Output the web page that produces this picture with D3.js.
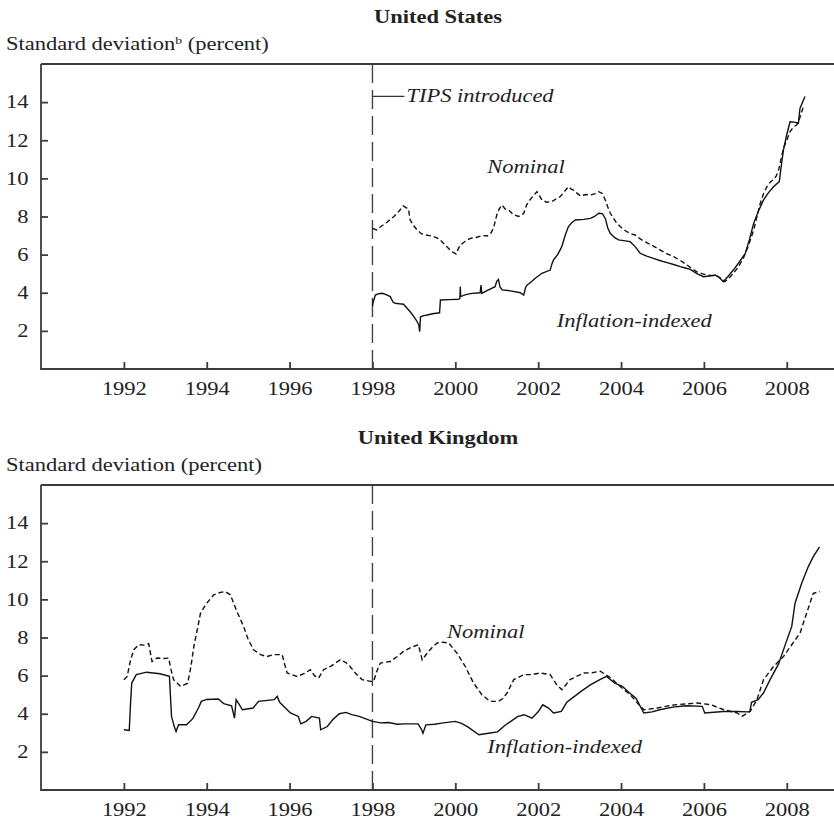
<!DOCTYPE html>
<html>
<head>
<meta charset="utf-8">
<title>Standard deviation of yields</title>
<script src="https://d3js.org/d3.v7.min.js"></script>
<style>
  body { margin: 0; background: #fff; }
  svg text { font-family: "Liberation Serif", "Times New Roman", serif; fill: #222; }
</style>
</head>
<body>
<div id="chart"></div>
<script>
// series: [year, standard deviation in percent]
const usNominal = [[1998.0,7.38],[1998.1,7.3],[1998.19,7.45],[1998.35,7.7],[1998.52,8.0],[1998.65,8.3],[1998.74,8.55],[1998.82,8.45],[1998.87,8.38],[1998.91,7.82],[1999.0,7.5],[1999.08,7.29],[1999.18,7.1],[1999.28,7.03],[1999.38,7.0],[1999.48,6.94],[1999.58,6.85],[1999.68,6.68],[1999.78,6.45],[1999.88,6.24],[1999.96,6.1],[2000.02,6.03],[2000.07,6.3],[2000.12,6.5],[2000.24,6.7],[2000.36,6.85],[2000.5,6.9],[2000.65,7.0],[2000.77,6.98],[2000.85,7.1],[2000.92,7.38],[2000.97,7.8],[2001.0,8.08],[2001.06,8.4],[2001.13,8.6],[2001.2,8.4],[2001.29,8.33],[2001.4,8.1],[2001.53,8.0],[2001.65,8.16],[2001.72,8.6],[2001.77,8.78],[2001.85,9.0],[2001.97,9.3],[2002.03,9.1],[2002.09,8.87],[2002.2,8.75],[2002.33,8.78],[2002.45,8.95],[2002.53,9.04],[2002.63,9.3],[2002.73,9.56],[2002.79,9.45],[2002.85,9.39],[2002.95,9.2],[2003.02,9.08],[2003.15,9.15],[2003.26,9.13],[2003.38,9.2],[2003.46,9.3],[2003.54,9.22],[2003.62,8.87],[2003.68,8.5],[2003.74,8.17],[2003.82,7.9],[2003.9,7.64],[2004.02,7.4],[2004.14,7.2],[2004.24,7.1],[2004.34,7.03],[2004.48,6.8],[2004.62,6.63],[2004.78,6.45],[2004.95,6.24],[2005.1,6.05],[2005.27,5.89],[2005.43,5.7],[2005.59,5.46],[2005.7,5.28],[2005.83,5.1],[2005.95,5.0],[2006.07,4.93],[2006.2,4.9],[2006.31,4.88],[2006.42,4.75],[2006.51,4.58],[2006.6,4.75],[2006.71,5.02],[2006.83,5.35],[2006.95,5.8],[2007.08,6.5],[2007.2,7.29],[2007.28,8.0],[2007.36,8.69],[2007.44,9.2],[2007.52,9.56],[2007.6,9.8],[2007.68,9.95],[2007.74,10.1],[2007.8,10.4],[2007.86,11.0],[2007.92,11.58],[2008.0,12.0],[2008.08,12.45],[2008.16,12.7],[2008.24,12.8],[2008.32,13.2],[2008.4,13.76]];

const usIndexed = [[1998.0,3.3],[1998.02,3.53],[1998.07,3.88],[1998.15,3.95],[1998.24,3.97],[1998.33,3.9],[1998.43,3.8],[1998.5,3.5],[1998.55,3.45],[1998.65,3.42],[1998.75,3.4],[1998.83,3.2],[1998.91,3.0],[1999.0,2.75],[1999.08,2.48],[1999.12,2.3],[1999.14,1.96],[1999.16,2.74],[1999.24,2.8],[1999.32,2.83],[1999.45,2.9],[1999.62,2.95],[1999.64,3.62],[1999.85,3.64],[2000.08,3.66],[2000.11,3.7],[2000.12,4.32],[2000.13,3.8],[2000.25,3.9],[2000.4,3.97],[2000.6,4.0],[2000.62,4.4],[2000.64,3.97],[2000.8,4.15],[2000.96,4.32],[2001.0,4.6],[2001.04,4.7],[2001.08,4.3],[2001.13,4.15],[2001.33,4.1],[2001.57,4.0],[2001.65,3.88],[2001.7,4.3],[2001.73,4.4],[2001.85,4.6],[2001.93,4.76],[2002.09,5.02],[2002.29,5.19],[2002.33,5.5],[2002.37,5.72],[2002.47,6.0],[2002.57,6.42],[2002.65,7.0],[2002.73,7.47],[2002.82,7.7],[2002.9,7.82],[2003.1,7.85],[2003.26,7.9],[2003.36,8.0],[2003.46,8.17],[2003.55,8.15],[2003.62,7.9],[2003.68,7.4],[2003.74,7.12],[2003.84,6.9],[2003.94,6.77],[2004.1,6.72],[2004.22,6.68],[2004.34,6.42],[2004.46,6.07],[2004.62,5.92],[2004.78,5.8],[2004.95,5.68],[2005.11,5.58],[2005.27,5.48],[2005.43,5.37],[2005.55,5.3],[2005.67,5.23],[2005.83,5.0],[2005.99,4.84],[2006.13,4.88],[2006.27,4.93],[2006.37,4.8],[2006.47,4.58],[2006.58,4.85],[2006.71,5.19],[2006.85,5.6],[2007.0,6.07],[2007.1,6.8],[2007.2,7.64],[2007.32,8.3],[2007.44,8.87],[2007.56,9.25],[2007.68,9.56],[2007.82,9.83],[2007.87,10.7],[2007.92,11.49],[2008.0,12.3],[2008.08,12.97],[2008.18,12.95],[2008.28,12.89],[2008.32,13.68],[2008.44,14.29]];

const ukNominal = [[1992.0,5.79],[1992.08,5.96],[1992.16,6.8],[1992.24,7.36],[1992.36,7.62],[1992.48,7.6],[1992.6,7.68],[1992.64,7.2],[1992.68,6.74],[1992.8,6.92],[1992.95,6.9],[1993.08,6.92],[1993.14,6.3],[1993.2,5.79],[1993.37,5.43],[1993.54,5.6],[1993.62,6.5],[1993.69,7.53],[1993.78,8.5],[1993.85,9.28],[1994.0,9.8],[1994.17,10.24],[1994.3,10.35],[1994.45,10.41],[1994.57,10.24],[1994.73,9.36],[1994.89,8.58],[1995.0,7.9],[1995.13,7.36],[1995.3,7.1],[1995.45,7.0],[1995.62,7.1],[1995.82,7.1],[1995.88,6.6],[1995.94,6.14],[1996.18,5.96],[1996.35,6.1],[1996.5,6.31],[1996.6,6.0],[1996.7,5.87],[1996.82,6.31],[1997.0,6.5],[1997.22,6.83],[1997.35,6.7],[1997.46,6.48],[1997.6,6.1],[1997.75,5.79],[1997.95,5.7],[1998.03,5.7],[1998.1,6.2],[1998.19,6.66],[1998.43,6.74],[1998.6,7.0],[1998.75,7.27],[1998.95,7.5],[1999.11,7.62],[1999.2,6.83],[1999.32,7.18],[1999.45,7.5],[1999.56,7.71],[1999.7,7.75],[1999.84,7.71],[2000.04,7.18],[2000.24,6.48],[2000.44,5.61],[2000.64,5.0],[2000.84,4.65],[2001.04,4.65],[2001.15,4.8],[2001.25,5.09],[2001.41,5.79],[2001.65,6.05],[2001.85,6.05],[2002.05,6.14],[2002.29,6.05],[2002.45,5.52],[2002.57,5.26],[2002.77,5.79],[2003.1,6.14],[2003.3,6.15],[2003.5,6.23],[2003.74,5.9],[2003.98,5.43],[2004.22,5.0],[2004.4,4.55],[2004.55,4.21],[2004.87,4.3],[2005.1,4.4],[2005.35,4.48],[2005.6,4.52],[2005.84,4.56],[2006.16,4.48],[2006.48,4.21],[2006.8,4.04],[2006.92,3.86],[2007.12,4.13],[2007.28,4.74],[2007.44,5.79],[2007.68,6.48],[2007.92,7.0],[2008.12,7.62],[2008.32,8.23],[2008.48,9.28],[2008.64,10.32],[2008.8,10.41]];

const ukIndexed = [[1992.0,3.16],[1992.13,3.12],[1992.16,4.5],[1992.19,5.61],[1992.3,6.05],[1992.55,6.18],[1992.87,6.1],[1993.1,5.96],[1993.15,3.86],[1993.22,3.3],[1993.26,3.07],[1993.32,3.42],[1993.51,3.42],[1993.6,3.6],[1993.67,3.77],[1993.8,4.3],[1993.87,4.65],[1994.0,4.75],[1994.28,4.77],[1994.41,4.53],[1994.6,4.42],[1994.67,3.77],[1994.71,4.74],[1994.78,4.5],[1994.86,4.21],[1995.12,4.3],[1995.25,4.65],[1995.63,4.74],[1995.7,4.91],[1995.76,4.6],[1996.02,4.04],[1996.21,3.86],[1996.27,3.47],[1996.4,3.6],[1996.53,3.86],[1996.72,3.77],[1996.75,3.16],[1996.91,3.33],[1997.04,3.68],[1997.2,4.0],[1997.36,4.07],[1997.5,3.95],[1997.68,3.86],[1998.0,3.6],[1998.2,3.52],[1998.39,3.54],[1998.6,3.45],[1998.77,3.47],[1999.1,3.47],[1999.18,3.2],[1999.22,2.98],[1999.29,3.42],[1999.5,3.45],[1999.67,3.51],[2000.0,3.6],[2000.15,3.5],[2000.31,3.3],[2000.57,2.9],[2000.8,2.98],[2001.02,3.05],[2001.2,3.4],[2001.34,3.6],[2001.5,3.85],[2001.66,3.95],[2001.85,3.77],[2002.0,4.1],[2002.11,4.47],[2002.25,4.3],[2002.37,4.04],[2002.56,4.12],[2002.69,4.6],[2002.82,4.82],[2003.05,5.2],[2003.27,5.53],[2003.5,5.8],[2003.65,5.96],[2003.85,5.6],[2004.03,5.44],[2004.2,5.1],[2004.36,4.82],[2004.55,4.04],[2004.75,4.1],[2004.93,4.21],[2005.25,4.35],[2005.57,4.42],[2005.96,4.39],[2006.02,4.04],[2006.47,4.12],[2006.8,4.12],[2007.05,4.1],[2007.11,4.12],[2007.15,4.6],[2007.31,4.74],[2007.44,5.1],[2007.6,5.8],[2007.8,6.6],[2007.96,7.6],[2008.12,8.58],[2008.2,9.8],[2008.36,10.85],[2008.52,11.72],[2008.64,12.24],[2008.79,12.76]];

const yearTicks = [1992, 1994, 1996, 1998, 2000, 2002, 2004, 2006, 2008];
const valueTicks = [2, 4, 6, 8, 10, 12, 14];
const tipsYear = 1998;

const W = 834, H = 821;
const SX = 1.25;   // the scan is wider than tall, stretch glyphs to match
const FS = 18;

const svg = d3.select("#chart").append("svg")
  .attr("width", W).attr("height", H);

const x = d3.scaleLinear().domain([1990, 2009.14]).range([41, 834]);

function label(g, txt, px, py, opts) {
  opts = opts || {};
  return g.append("text")
    .attr("transform", "translate(" + px + "," + py + ") scale(" + SX + ",1)")
    .attr("text-anchor", opts.anchor || "start")
    .style("font-size", (opts.size || FS) + "px")
    .style("font-weight", opts.bold ? "bold" : "normal")
    .style("font-style", opts.italic ? "italic" : "normal")
    .text(txt);
}

function panel(top, bottom, cfg) {
  const g = svg.append("g");
  const y = d3.scaleLinear().domain([0, 16]).range([bottom, top]);

  // title and y caption
  label(g, cfg.title, 438, top - 41, {anchor: "middle", bold: true});
  const cap = label(g, "Standard deviation", 6, top - 14);
  if (cfg.sup) {
    cap.append("tspan").attr("baseline-shift", "super").style("font-size", "11px").text(cfg.sup);
  }
  cap.append("tspan").text(" (percent)");

  // axes
  const xa = g.append("g").attr("transform", "translate(0," + bottom + ")")
    .call(d3.axisBottom(x).tickValues(yearTicks).tickFormat(d3.format("d"))
      .tickSizeInner(-7).tickSizeOuter(0).tickPadding(13));
  xa.selectAll("text").attr("transform", "scale(" + SX + ",1)").style("font-size", FS + "px");

  const ya = g.append("g").attr("transform", "translate(" + x.range()[0] + ",0)")
    .call(d3.axisLeft(y).tickValues(valueTicks).tickSizeInner(-7).tickSizeOuter(0).tickPadding(10));
  ya.selectAll("text").attr("transform", "scale(" + SX + ",1)").style("font-size", FS + "px");

  g.selectAll(".domain, .tick line").attr("stroke", "#3c3c3c").attr("stroke-width", 1.8);
  xa.select(".domain").attr("d", "M" + x.range()[0] + ",0H" + W);
  ya.select(".domain").attr("d", "M0," + (bottom + 1) + "V" + top);

  // top frame line
  g.append("line").attr("x1", x.range()[0]).attr("x2", W)
    .attr("y1", top).attr("y2", top)
    .attr("stroke", "#3c3c3c").attr("stroke-width", 1.8);

  // 1998 marker
  g.append("line").attr("x1", x(tipsYear)).attr("x2", x(tipsYear))
    .attr("y1", top).attr("y2", bottom)
    .attr("stroke", "#444").attr("stroke-width", 1.4)
    .attr("stroke-dasharray", "19,7");

  const line = d3.line().x(d => x(d[0])).y(d => y(d[1]));

  g.append("path").datum(cfg.nominal).attr("d", line)
    .attr("fill", "none").attr("stroke", "#111").attr("stroke-width", 1.4)
    .attr("stroke-dasharray", "5,3");
  g.append("path").datum(cfg.indexed).attr("d", line)
    .attr("fill", "none").attr("stroke", "#111").attr("stroke-width", 1.4);

  cfg.notes.forEach(n => label(g, n.text, x(n.year), y(n.value), {anchor: "start", italic: true}));
  return y;
}

const yUS = panel(64, 369, {
  title: "United States", sup: "b",
  nominal: usNominal, indexed: usIndexed,
  notes: [
    {text: "Nominal", year: 2000.77, value: 10.3},
    {text: "Inflation-indexed", year: 2002.45, value: 2.2}
  ]
});

// TIPS introduced callout
svg.append("line")
  .attr("x1", x(tipsYear)).attr("x2", x(tipsYear) + 32)
  .attr("y1", yUS(14.3)).attr("y2", yUS(14.3))
  .attr("stroke", "#333").attr("stroke-width", 1.2);
label(svg, "TIPS introduced", x(tipsYear) + 34, yUS(14.3) + 6, {italic: true});

panel(485, 790, {
  title: "United Kingdom", sup: null,
  nominal: ukNominal, indexed: ukIndexed,
  notes: [
    {text: "Nominal", year: 1999.8, value: 7.95},
    {text: "Inflation-indexed", year: 2000.77, value: 1.95}
  ]
});
</script>
</body>
</html>
